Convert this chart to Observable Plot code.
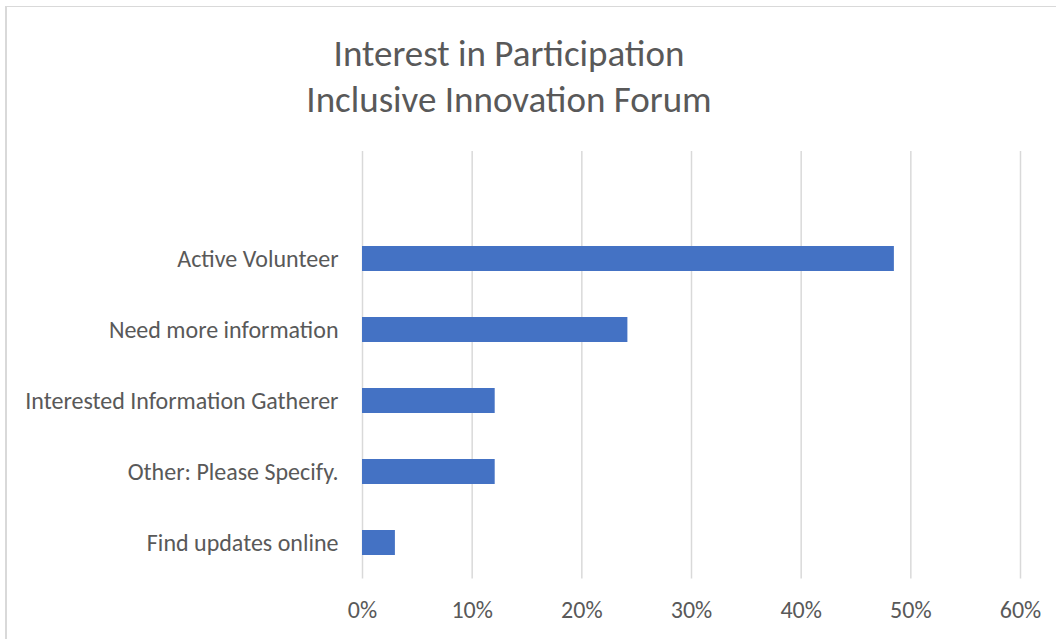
<!DOCTYPE html>
<html><head><meta charset="utf-8">
<script src="https://cdn.jsdelivr.net/npm/d3@7"></script>
<script src="https://cdn.jsdelivr.net/npm/@observablehq/plot@0.6"></script>
<style>
body{margin:0;background:#fff;}
#wrap{position:relative;width:1056px;height:639px;overflow:hidden;background:#fff;font-family:Calibri,Carlito,"Open Sans",sans-serif;}
#border{position:absolute;left:5px;top:6px;width:1200px;height:800px;border-left:2px solid #d9d9d9;border-top:1.5px solid #d9d9d9;}
#title{position:absolute;left:0;top:31px;width:1018px;text-align:center;font-size:37px;line-height:46px;color:#595959;}
#chart{position:absolute;left:0;top:140px;}
</style></head><body>
<div id="wrap"><div id="border"></div><div id="title">Interest in Participation<br>Inclusive Innovation Forum</div><div id="chart"></div></div>
<script>
const categories = ["Active Volunteer","Need more information","Interested Information Gatherer","Other: Please Specify.","Find updates online"];
const values = [0.485, 0.242, 0.121, 0.121, 0.030];
const xTicks = [0, 0.1, 0.2, 0.3, 0.4, 0.5, 0.6];
const data = categories.map((c, i) => ({category: c, value: values[i]}));
const chart = Plot.plot({
  width: 1056, height: 499,
  marginLeft: 362, marginRight: 36, marginTop: 11, marginBottom: 60.5,
  style: {fontFamily: "Calibri, Carlito, 'Open Sans', sans-serif", background: "transparent", overflow: "visible"},
  x: {domain: [0, 0.6]},
  y: {domain: categories, paddingInner: 0.65, paddingOuter: 0.325, insetTop: 71.25},
  marks: [
    Plot.ruleX(xTicks, {stroke: "#d9d9d9", strokeWidth: 1.5}),
    Plot.barX(data, {x: "value", y: "category", fill: "#4472C4"}),
    Plot.axisX({ticks: xTicks, tickFormat: d3.format(".0%"), tickSize: 0, tickPadding: 21.5, fontSize: 24, fill: "#595959", label: null}),
    Plot.axisY({tickSize: 0, tickPadding: 24, fontSize: 24, fill: "#595959", label: null})
  ]
});
document.getElementById("chart").appendChild(chart);
</script>
</body></html>
